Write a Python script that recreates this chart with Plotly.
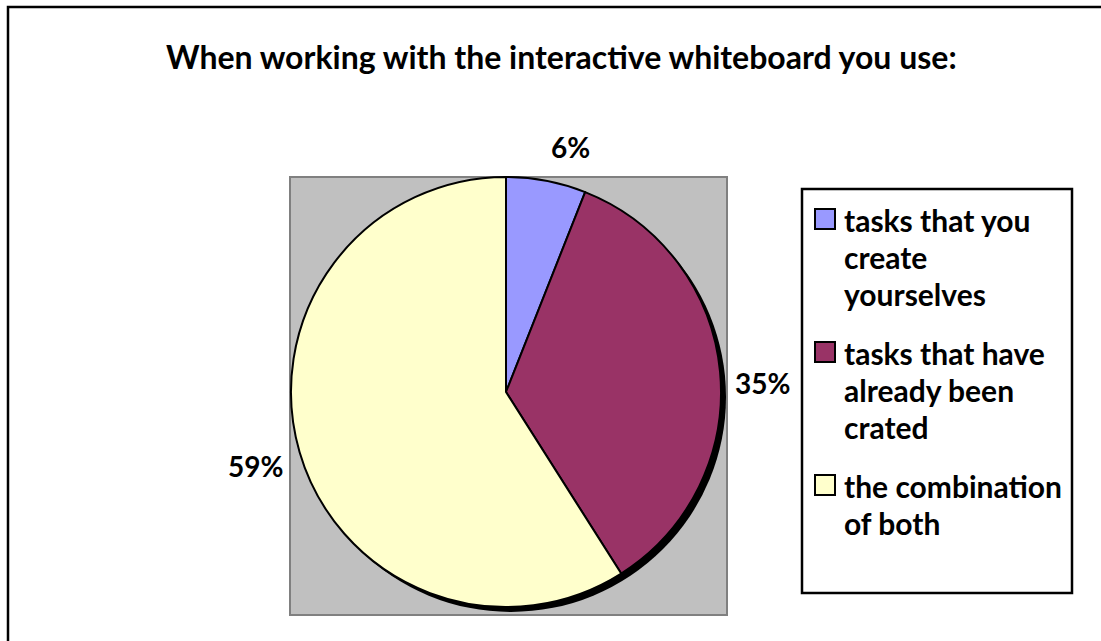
import textwrap
import plotly.graph_objects as go

W, H = 1101, 641

title_text = "When working with the interactive whiteboard you use:"
categories = [
    "tasks that you create yourselves",
    "tasks that have already been crated",
    "the combination of both",
]
shares = [6, 35, 59]
colors = ["#9999FF", "#993366", "#FFFFCC"]

FONT = "Lato"


def px(x):
    return x / W


def py(y):
    return 1 - y / H


# pie placement in pixels
pie_left, pie_top, pie_size = 291, 177, 430
shadow = 5

fig = go.Figure()

# drop shadow behind the pie
fig.add_trace(go.Pie(
    values=[1], labels=["shadow"], marker=dict(colors=["#000000"], line=dict(width=0)),
    domain=dict(x=[px(pie_left + shadow), px(pie_left + shadow + pie_size)],
                y=[py(pie_top + shadow + pie_size), py(pie_top + shadow)]),
    textinfo="none", hoverinfo="skip", sort=False, showlegend=False,
))

fig.add_trace(go.Pie(
    values=shares, labels=categories, sort=False, direction="clockwise", rotation=0,
    marker=dict(colors=colors, line=dict(color="#000000", width=2)),
    domain=dict(x=[px(pie_left), px(pie_left + pie_size)],
                y=[py(pie_top + pie_size), py(pie_top)]),
    textinfo="none", showlegend=False,
    hovertemplate="%{label}: %{value}%<extra></extra>",
))

shapes = [
    # outer chart border
    dict(type="rect", xref="paper", yref="paper", x0=px(8), x1=px(1120), y0=py(660), y1=py(7),
         line=dict(color="#000000", width=2.5), fillcolor="rgba(0,0,0,0)", layer="below"),
    # grey plot area
    dict(type="rect", xref="paper", yref="paper", x0=px(290), x1=px(727), y0=py(615), y1=py(177),
         line=dict(color="#808080", width=2), fillcolor="#C0C0C0", layer="below"),
    # legend box
    dict(type="rect", xref="paper", yref="paper", x0=px(802), x1=px(1072), y0=py(593), y1=py(189),
         line=dict(color="#000000", width=2.5), fillcolor="#FFFFFF", layer="below"),
]

annotations = [
    dict(text=title_text, x=px(561), y=py(56), xref="paper", yref="paper",
         xanchor="center", yanchor="middle", showarrow=False,
         font=dict(family=FONT, size=32, color="#000000", weight="bold")),
]

# percentage labels beside each slice
label_pos = [(570, 147), (762, 383), (255, 466)]
for v, (lx, ly) in zip(shares, label_pos):
    annotations.append(dict(
        text=f"{v}%", x=px(lx), y=py(ly), xref="paper", yref="paper",
        xanchor="center", yanchor="middle", showarrow=False,
        font=dict(family=FONT, size=28, color="#000000", weight="bold")))

# legend entries: swatch + wrapped label, one annotation per line
line_h = 37
first_line = 220
for name, col in zip(categories, colors):
    lines = textwrap.wrap(name, 15)
    shapes.append(dict(type="rect", xref="paper", yref="paper",
                       x0=px(815), x1=px(835), y0=py(first_line + 9), y1=py(first_line - 11),
                       line=dict(color="#000000", width=2), fillcolor=col))
    for i, ln in enumerate(lines):
        annotations.append(dict(
            text=ln, x=px(842), y=py(first_line + i * line_h), xref="paper", yref="paper",
            xanchor="left", yanchor="middle", align="left", showarrow=False,
            font=dict(family=FONT, size=30, color="#000000", weight="bold")))
    first_line += len(lines) * line_h + 22

fig.update_layout(
    width=W, height=H, margin=dict(l=0, r=0, t=0, b=0),
    paper_bgcolor="#FFFFFF", plot_bgcolor="#FFFFFF",
    shapes=shapes, annotations=annotations, showlegend=False,
)

fig.write_html("out.html")
